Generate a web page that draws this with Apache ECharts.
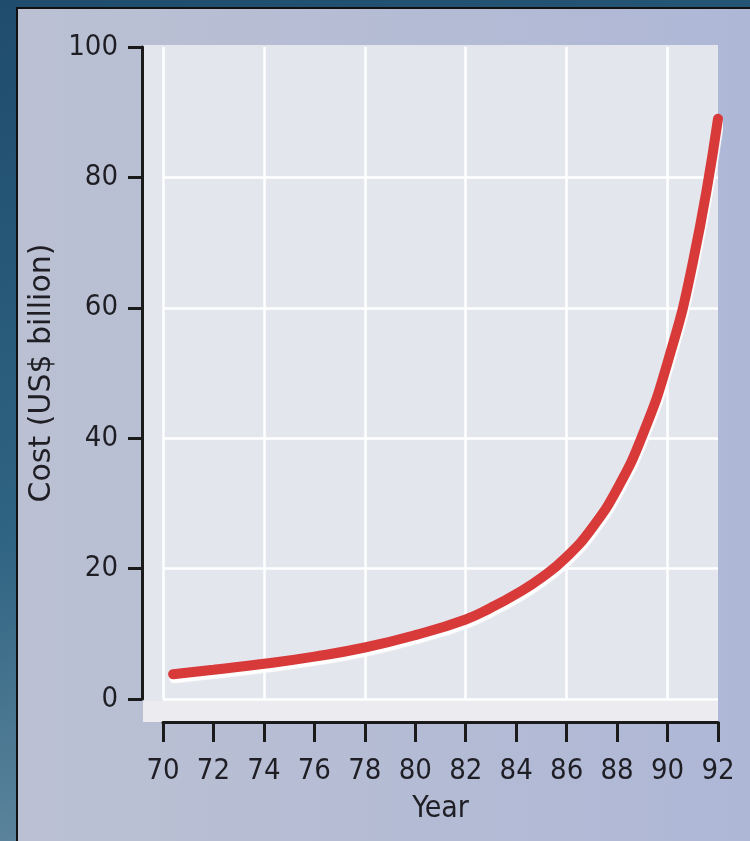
<!DOCTYPE html>
<html>
<head>
<meta charset="utf-8">
<script src="https://cdn.jsdelivr.net/npm/echarts@6/dist/echarts.min.js"></script>
<style>
html,body{margin:0;padding:0;background:#255474;}
#chart{width:750px;height:841px;}
</style>
</head>
<body>
<div id="chart"></div>
<script>
// Data
var years = [70.4, 72, 74, 76, 78, 80, 82, 83, 84, 85, 86, 87, 88, 89, 90, 91, 92];
var costs = [3.8, 4.5, 5.4, 6.5, 7.9, 9.8, 12.2, 14.0, 16.1, 18.6, 21.8, 26.2, 32.2, 40.4, 51.6, 66.9, 89.0];
var xTitle = 'Year';
var yTitle = 'Cost (US$ billion)';

var seriesData = years.map(function (y, i) { return [y, costs[i]]; });

var chart = echarts.init(document.getElementById('chart'));
var numFont = '"Liberation Sans Narrow", "Noto Sans Condensed", "DejaVu Sans Condensed", sans-serif';

chart.setOption({
  animation: false,
  backgroundColor: '#255474',
  graphic: {
    elements: [
      { type: 'rect', z: -30, shape: { x: 0, y: 0, width: 750, height: 841 },
        style: { fill: new echarts.graphic.LinearGradient(0, 0, 0.3, 1, [
          { offset: 0, color: '#1f4c6c' }, { offset: 0.6, color: '#2f6482' }, { offset: 1, color: '#6389a0' }]) } },
      { type: 'rect', z: -20, shape: { x: 17, y: 8, width: 740, height: 840 },
        style: { fill: new echarts.graphic.LinearGradient(0, 0, 1, 0, [
          { offset: 0, color: '#bbc1d3' }, { offset: 1, color: '#aeb7d6' }]), stroke: '#111', lineWidth: 2 } },
      { type: 'rect', z: -10, shape: { x: 143, y: 45, width: 575, height: 677 },
        style: { fill: '#e4e6ed' } },
      { type: 'rect', z: -9, shape: { x: 143, y: 701, width: 575, height: 21 },
        style: { fill: '#ebebf0' } }
    ]
  },
  grid: { left: 163, right: 32, top: 47, bottom: 142, containLabel: false },
  xAxis: [{
    type: 'value', min: 70, max: 92, interval: 2, position: 'bottom', offset: 23,
    name: xTitle, nameLocation: 'middle', nameGap: 72,
    nameTextStyle: { fontFamily: numFont, fontSize: 30, color: '#1e1e24' },
    axisLine: { show: true, onZero: false, lineStyle: { color: '#1a1a1a', width: 3 } },
    axisTick: { show: true, length: 20, lineStyle: { color: '#1a1a1a', width: 3 } },
    axisLabel: { margin: 35, fontFamily: numFont, fontSize: 29, color: '#1e1e24' },
    splitLine: { show: false }
  }, {
    type: 'value', min: 70, max: 92, interval: 4, position: 'bottom', show: true,
    axisLine: { show: false }, axisTick: { show: false }, axisLabel: { show: false },
    splitLine: { show: true, lineStyle: { width: 2.5,
      color: ['#ffffff', '#ffffff', '#ffffff', '#ffffff', '#ffffff', '#ffffff', 'rgba(0,0,0,0)'] } }
  }],
  yAxis: {
    type: 'value', min: 0, max: 100, interval: 20, position: 'left', offset: 21,
    name: yTitle, nameLocation: 'middle', nameGap: 80, nameRotate: 90,
    nameTextStyle: { fontFamily: '"DejaVu Sans", "Noto Sans", sans-serif', fontSize: 30, color: '#1e1e24' },
    axisLine: { show: true, onZero: false, lineStyle: { color: '#1a1a1a', width: 3 } },
    axisTick: { show: true, length: 14, lineStyle: { color: '#1a1a1a', width: 3 } },
    axisLabel: { margin: 24, fontFamily: numFont, fontSize: 29, color: '#1e1e24' },
    splitLine: { show: true, lineStyle: { width: 2.5,
      color: ['#ffffff', '#ffffff', '#ffffff', '#ffffff', '#ffffff', 'rgba(0,0,0,0)'] } }
  },
  series: [{
    type: 'line',
    xAxisIndex: 0,
    data: seriesData,
    smooth: 0.5,
    symbol: 'none',
    lineStyle: { color: '#d83a3a', width: 10, cap: 'round',
      shadowColor: 'rgba(255,255,255,0.95)', shadowOffsetY: 4, shadowOffsetX: 1, shadowBlur: 1 }
  }]
});
</script>
</body>
</html>
